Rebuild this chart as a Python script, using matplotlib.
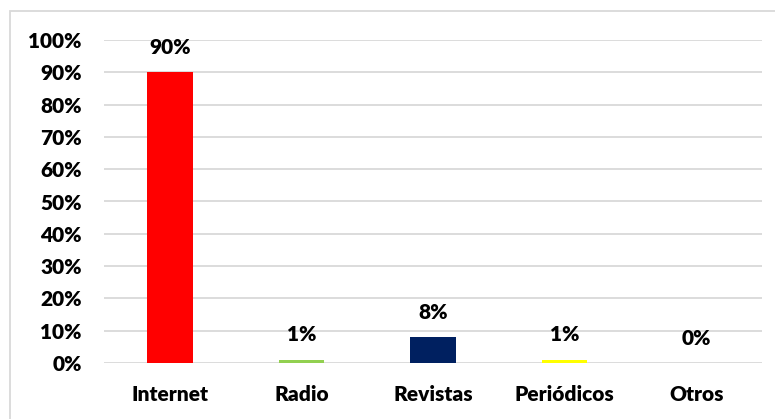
import matplotlib.pyplot as plt
from matplotlib.patches import Rectangle
from matplotlib.ticker import PercentFormatter

# medios de consulta (porcentaje de respuestas)
categorias = ['Internet', 'Radio', 'Revistas', 'Periódicos', 'Otros']
valores = [90, 1, 8, 1, 0]
colores = ['#ff0000', '#92d050', '#002060', '#ffff00', '#a5a5a5']

plt.rcParams['font.family'] = ['Lato', 'DejaVu Sans']

fig = plt.figure(figsize=(7.75, 4.19), dpi=100)
ax = fig.add_axes([104 / 775, 1 - 363 / 419, 658 / 775, 323 / 419])

x = range(len(categorias))
ax.bar(x, valores, width=0.345, color=colores, zorder=3)

fs = 15
for xi, v in zip(x, valores):
    ax.annotate(f'{v}%', (xi, v), xytext=(0, 18), textcoords='offset points',
                ha='center', va='center', fontsize=fs, fontweight='heavy')

ax.set_xlim(-0.5, len(categorias) - 0.5)
ax.set_ylim(0, 100)
ax.set_yticks(range(0, 101, 10))
ax.yaxis.set_major_formatter(PercentFormatter(decimals=0))
ax.set_xticks(list(x))
ax.set_xticklabels(categorias)
ax.tick_params(axis='both', length=0, labelsize=fs)
ax.tick_params(axis='x', pad=16)
ax.tick_params(axis='y', pad=16)
for lbl in ax.get_yticklabels() + ax.get_xticklabels():
    lbl.set_fontweight('heavy')

ax.grid(axis='y', color='#d9d9d9', linewidth=1.3, zorder=0)
for s in ax.spines.values():
    s.set_visible(False)

# marco del gráfico (sale por la derecha y por abajo)
fig.patches.append(Rectangle((10 / 775, -0.05), 1.0, 1 - 11 / 419 + 0.05,
                             transform=fig.transFigure, fill=False,
                             edgecolor='#d9d9d9', linewidth=1.3))

fig.savefig('out.png', dpi=100)
